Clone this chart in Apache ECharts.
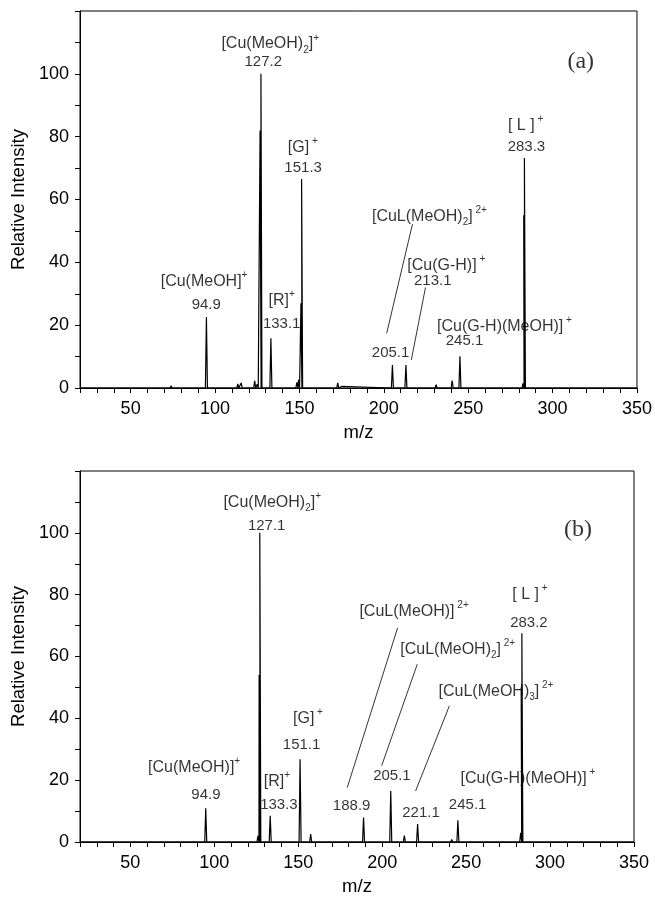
<!DOCTYPE html>
<html>
<head>
<meta charset="utf-8">
<script src="https://cdn.jsdelivr.net/npm/echarts@6/dist/echarts.min.js"></script>
<style>
html,body{margin:0;padding:0;background:#fff;}
#chart{width:655px;height:897px;}
</style>
</head>
<body>
<div id="chart"></div>
<script>
// ---- Data: panel (a) ----
const mzA  = [56.5, 74, 75.5, 85, 94.9, 113.5, 115.5, 123.5, 125, 126.7, 127.2, 133.1, 148.5, 149.5, 150.9, 151.3, 172.7, 175, 205.1, 213.1, 231, 240.5, 245.1, 282.5, 282.9, 283.3];
const intA = [0.6, 0.7, 0.5, 0.4, 22.6, 1.3, 1.6, 2.3, 1.2, 82, 100, 15.8, 1.8, 2.6, 27, 66.5, 1.6, 0.5, 7.3, 7.3, 1.1, 2.4, 10.1, 1.5, 55, 73.2];
// ---- Data: panel (b) ----
const mzB  = [94.9, 126, 126.7, 127.1, 133.3, 151.1, 157.4, 170, 175, 178, 188.9, 205.1, 213.2, 221.1, 241.4, 245.1, 282.5, 282.8, 283.2];
const intB = [10.9, 2.0, 54, 100, 8.5, 26.8, 2.6, 0.3, 0.3, 0.2, 7.9, 16.5, 2.1, 5.8, 0.8, 7.0, 3.0, 50, 67.5];

// axis ranges / ticks
const xMin = 20, xMax = 350, xStep = 10, xLabelEvery = 50;
const yMin = 0, yMax = 120, yStep = 10, yLabelEvery = 20, yLabelMax = 100;

// annotation texts with anchor (m/z, intensity)
const notesA = [
  ['{n|[Cu(MeOH)}{sub|2}{n|]}{sup|+}', 132.7, 109.5],
  ['{m|127.2}', 128.6, 103.8],
  ['{n|[G]}{sup| +}', 152, 76.6],
  ['{m|151.3}', 152.2, 70],
  ['{n|[Cu(MeOH]}{sup|+}', 93.5, 33.9],
  ['{m|94.9}', 94.8, 26.6],
  ['{n|[R]}{sup|+}', 139.5, 27.8],
  ['{m|133.1}', 139.5, 20.3],
  ['{t|(a)}', 316.7, 103.8],
  ['{n|[ L ]}{sup| +}', 284, 83.5],
  ['{m|283.3}', 284.5, 76.9],
  ['{n|[CuL(MeOH)}{sub|2}{n|]}{sup| 2+}', 227, 54.7],
  ['{n|[Cu(G-H)]}{sup| +}', 237, 39],
  ['{m|213.1}', 229, 34.2],
  ['{m|205.1}', 204, 11.2],
  ['{n|[Cu(G-H)(MeOH)]}{sup| +}', 271.5, 19.6],
  ['{m|245.1}', 247.8, 14.9]
];
const leadersA = [[217, 52.2, 201.7, 17.4], [224.7, 32, 216.3, 8.9]];

const notesB = [
  ['{n|[Cu(MeOH)}{sub|2}{n|]}{sup|+}', 134.5, 109.8],
  ['{m|127.1}', 131.2, 102.2],
  ['{n|[G]}{sup| +}', 155.8, 40],
  ['{m|151.1}', 152, 31.3],
  ['{n|[Cu(MeOH)]}{sup|+}', 88, 24.1],
  ['{m|94.9}', 95, 15.4],
  ['{n|[R]}{sup|+}', 137.3, 19.7],
  ['{m|133.3}', 138.5, 12],
  ['{t|(b)}', 316.6, 101],
  ['{n|[ L ]}{sup| +}', 288, 80],
  ['{m|283.2}', 287.4, 71],
  ['{n|[CuL(MeOH)]}{sup| 2+}', 219, 74.6],
  ['{n|[CuL(MeOH)}{sub|2}{n|]}{sup| 2+}', 245, 62.2],
  ['{n|[CuL(MeOH)}{sub|3}{n|]}{sup| 2+}', 267.8, 48.6],
  ['{n|[Cu(G-H)(MeOH)]}{sup| +}', 286.8, 20.6],
  ['{m|188.9}', 181.8, 11.7],
  ['{m|205.1}', 205.8, 21.4],
  ['{m|221.1}', 223.1, 9.5],
  ['{m|245.1}', 250.9, 12]
];
const leadersB = [[209.2, 69.3, 179.2, 17.6], [220.9, 57.5, 199.7, 24.7], [240, 44, 219.9, 16.5]];

const FONT = "'Liberation Sans', Arial, sans-serif";
const SERIF = "'Liberation Serif', 'Times New Roman', serif";
const HALF = 0.6;

function spectrum(mz, inten) {
  const pts = [[xMin, 0]];
  mz.forEach((m, i) => { pts.push([m - HALF, 0], [m, inten[i]], [m + HALF, 0]); });
  pts.push([xMax, 0]);
  return pts;
}

const rich = {
  n: {fontSize: 16, fontFamily: FONT, color: '#000', lineHeight: 22},
  m: {fontSize: 15, fontFamily: FONT, color: '#000', lineHeight: 18},
  sup: {fontSize: 10, fontFamily: FONT, color: '#000', lineHeight: 10, verticalAlign: 'top'},
  sub: {fontSize: 10, fontFamily: FONT, color: '#000', lineHeight: 10, verticalAlign: 'bottom'},
  t: {fontSize: 24, fontFamily: SERIF, color: '#000', lineHeight: 26}
};

function xAxisCfg(gridIndex) {
  return {
    gridIndex, type: 'value', min: xMin, max: xMax, interval: xStep,
    name: 'm/z', nameLocation: 'middle', nameGap: 35,
    nameTextStyle: {fontSize: 18.5, fontFamily: FONT, color: '#000'},
    axisLine: {show: true, onZero: false, lineStyle: {color: '#000', width: 1}},
    axisTick: {show: true, inside: false, length: 5, lineStyle: {color: '#000'}},
    axisLabel: {
      fontSize: 18, fontFamily: FONT, color: '#000', margin: 12,
      showMinLabel: true, showMaxLabel: true,
      formatter: v => (v % xLabelEvery === 0 ? String(v) : '')
    },
    splitLine: {show: false}
  };
}
function yAxisCfg(gridIndex) {
  return {
    gridIndex, type: 'value', min: yMin, max: yMax, interval: yStep,
    name: 'Relative Intensity', nameLocation: 'middle', nameGap: 45,
    nameTextStyle: {fontSize: 18.5, fontFamily: FONT, color: '#000'},
    axisLine: {show: true, lineStyle: {color: '#000', width: 1}},
    axisTick: {show: true, inside: false, length: 5, lineStyle: {color: '#000'}},
    axisLabel: {
      fontSize: 18, fontFamily: FONT, color: '#000', margin: 11,
      formatter: v => (v % yLabelEvery === 0 && v <= yLabelMax ? String(v) : '')
    },
    splitLine: {show: false}
  };
}

function specSeries(idx, mz, inten) {
  return {
    type: 'line', xAxisIndex: idx, yAxisIndex: idx,
    data: spectrum(mz, inten), symbol: 'none', silent: true,
    lineStyle: {color: '#000', width: 1.2}, animation: false, z: 4
  };
}
function noteSeries(idx, notes, leaders) {
  return {
    type: 'scatter', xAxisIndex: idx, yAxisIndex: idx, symbolSize: 0, silent: true,
    data: notes.map(n => ({value: [n[1], n[2]], label: {formatter: n[0]}})),
    label: {show: true, position: 'inside', align: 'center', verticalAlign: 'middle', rich},
    markLine: {
      silent: true, symbol: ['none', 'none'], animation: false,
      lineStyle: {color: '#000', width: 0.8, type: 'solid'},
      label: {show: false},
      data: leaders.map(l => [{coord: [l[0], l[1]]}, {coord: [l[2], l[3]]}])
    },
    animation: false, z: 2
  };
}

const chart = echarts.init(document.getElementById('chart'), null, {renderer: 'canvas'});
chart.setOption({
  backgroundColor: '#fff',
  animation: false,
  grid: [
    {left: 80, top: 11, width: 557, height: 377, show: true, borderColor: '#000', borderWidth: 1, backgroundColor: 'transparent'},
    {left: 80, top: 471, width: 554, height: 375, show: true, borderColor: '#000', borderWidth: 1, backgroundColor: 'transparent'}
  ],
  xAxis: [xAxisCfg(0), xAxisCfg(1)],
  yAxis: [yAxisCfg(0), yAxisCfg(1)],
  series: [
    specSeries(0, mzA, intA),
    specSeries(1, mzB, intB),
    noteSeries(0, notesA, leadersA),
    noteSeries(1, notesB, leadersB)
  ]
});
</script>
</body>
</html>
